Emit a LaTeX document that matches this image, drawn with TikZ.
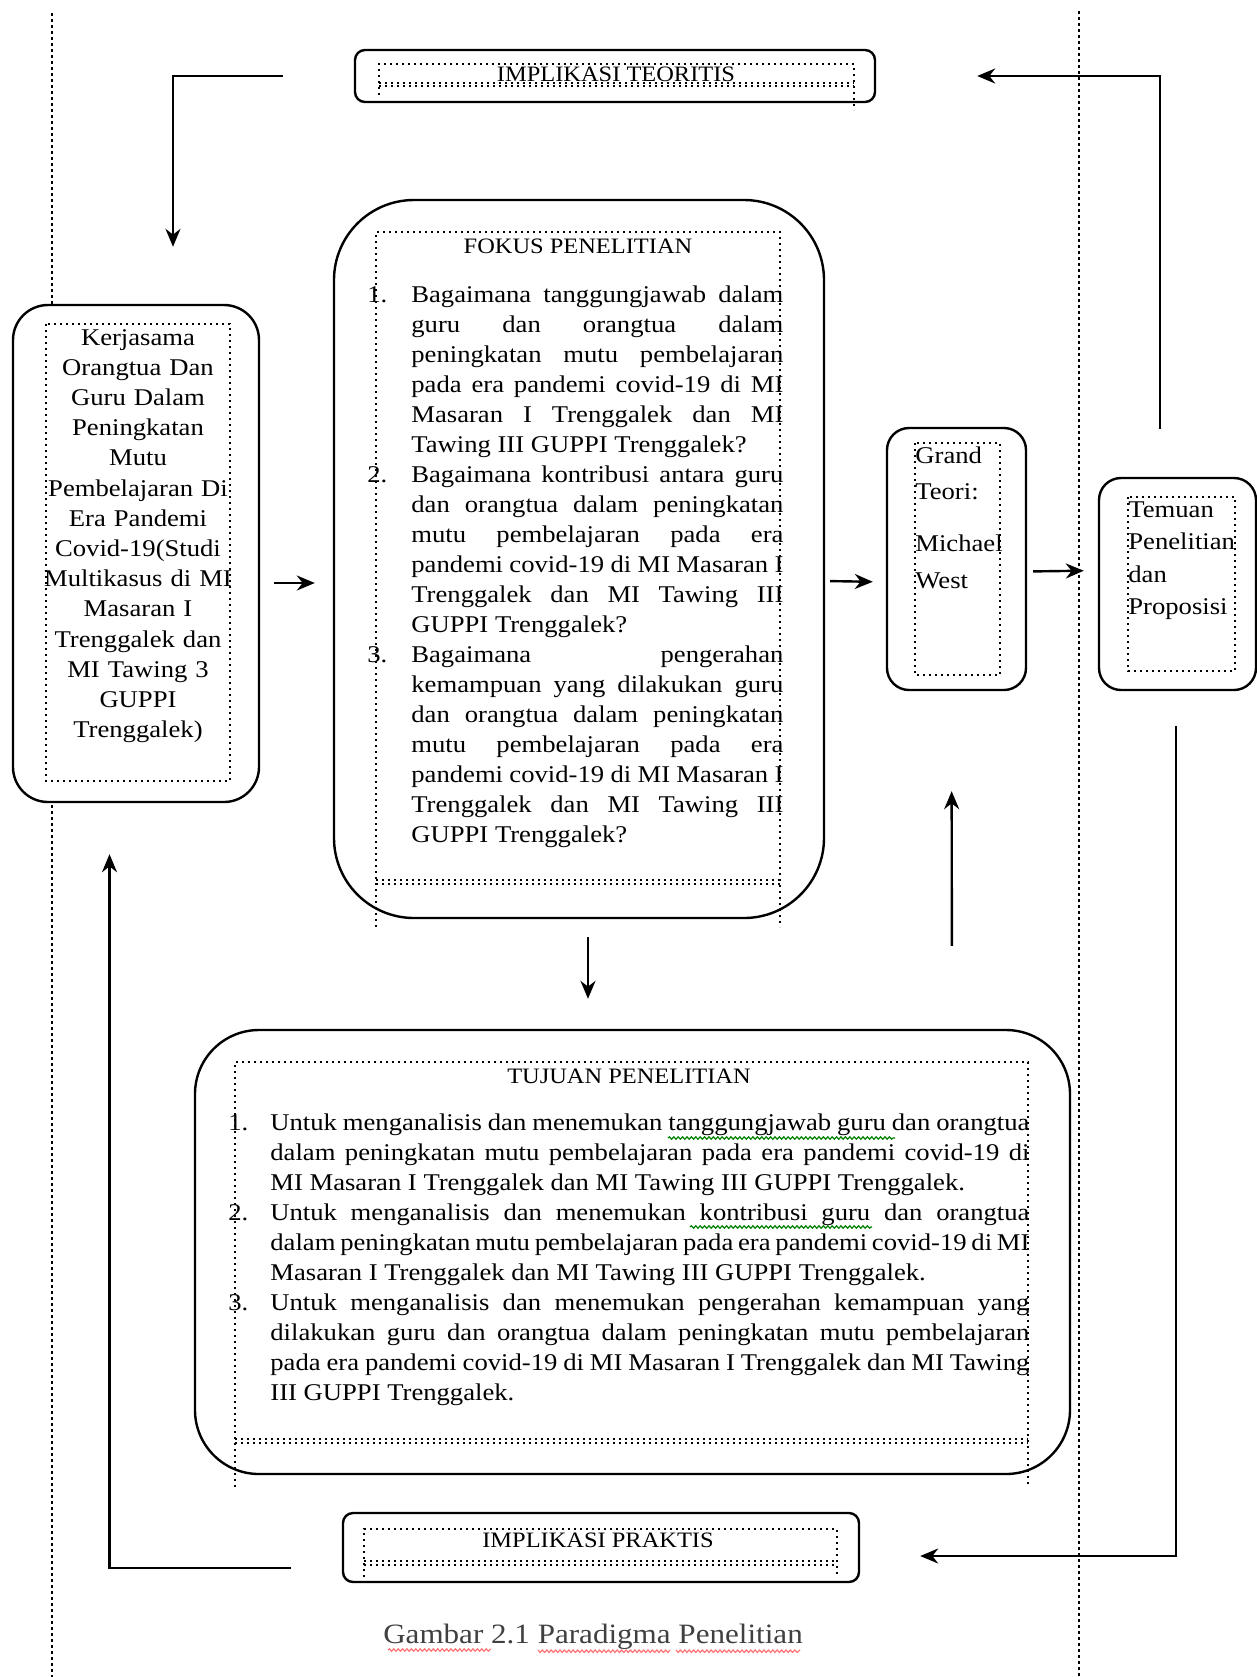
\documentclass[tikz,border=0pt]{standalone}
\usepackage{fontspec}
\setmainfont{Liberation Serif}[FakeStretch=1.11]
\usetikzlibrary{positioning,arrows.meta,decorations.pathmorphing}

\newcommand{\numitem}[3]{\noindent\hangindent=#1\hangafter=1\makebox[#1][l]{#2}#3\par}

\begin{document}
\begin{tikzpicture}[x=0.5pt, y=-0.5pt, >={Stealth[length=9pt,width=7.5pt]},
  box/.style={draw, fill=white, line width=1.2pt, rounded corners=#1, inner sep=0pt},
  frame/.style={line width=1pt, dotted},
  guide/.style={line width=0.9pt, dash pattern=on 1.5pt off 1.5pt},
  link/.style={->, line width=1.2pt},
  title/.style={inner sep=0pt, font=\fontsize{11}{13}\selectfont},
  body/.style={inner sep=0pt, font=\fontsize{12}{#1}\selectfont},
  spell/.style={#1, line width=0.6pt, decorate, decoration={snake, amplitude=0.6pt, segment length=2.2pt}}]

\useasboundingbox (0,0) rectangle (1257,1677);

% page guides
\draw [guide] (52,13) -- (52,1677);
\draw [guide] (1079,11) -- (1079,1677);

% boxes
\node [box=5pt, minimum width=260pt, minimum height=26pt] (teoritis) at (615,76) {};
\node [box=17.5pt, minimum width=123pt, minimum height=248.5pt] (kerj) at (136,553.5) {};
\node [box=40pt, minimum width=245pt, minimum height=359pt] (fokus) at (579,559) {};
\node [box=11pt, minimum width=69.5pt, minimum height=131pt] (grand) at (956.5,559) {};
\node [box=11pt, minimum width=78.5pt, minimum height=106pt] (temuan) at (1177.5,584) {};
\node [box=32pt, minimum width=437.5pt, minimum height=222pt] (tujuan) at (632.5,1252) {};
\node [box=5pt, minimum width=258pt, minimum height=34.5pt] (praktis) at (601,1547.5) {};

% dotted text frames
\draw [frame] (379,95) |- (854,64) -- (854,110);
\draw [frame] (379,83) -- (854,83) (379,86) -- (854,86);
\draw [frame] (46,324) rectangle (230,781);
\draw [frame] (376,927) |- (780,232) -- (780,927);
\draw [frame] (376,880) -- (780,880) (376,884) -- (780,884);
\draw [frame] (915,443) rectangle (1000,675);
\draw [frame] (1128,497) rectangle (1235,671);
\draw [frame] (235,1487) |- (1028,1062) -- (1028,1487);
\draw [frame] (235,1439) -- (1028,1439) (235,1443) -- (1028,1443);
\draw [frame] (364,1577) |- (837,1529) -- (837,1577);
\draw [frame] (364,1561) -- (837,1561) (364,1565) -- (837,1565);

% texts
\node [title] (teoritis-title) at (616,74) {IMPLIKASI TEORITIS};
\node [title] (fokus-title) at (578,246) {FOKUS PENELITIAN};
\node [title] (tujuan-title) at (629,1076) {TUJUAN PENELITIAN};
\node [title] (praktis-title) at (598,1540) {IMPLIKASI PRAKTIS};

\node [body=15.1pt, text width=100pt, align=center, anchor=base] (kerj-text) at (138,345)
  {Kerjasama\\ Orangtua Dan\\ Guru Dalam\\ Peningkatan\\ Mutu\\ Pembelajaran Di\\ Era Pandemi\\
   Covid-19(Studi\\ Multikasus di MI\\ Masaran I\\ Trenggalek dan\\ MI Tawing 3\\ GUPPI\\ Trenggalek)};

\node [body=15pt, text width=208pt, align=justify, anchor=base west] (fokus-list) at (367,302) {%
  \numitem{22pt}{1.}{Bagaimana tanggungjawab dalam\linebreak guru dan orangtua dalam\linebreak
    peningkatan mutu pembelajaran\linebreak pada era pandemi covid-19 di MI\linebreak
    Masaran I Trenggalek dan MI\linebreak Tawing III GUPPI Trenggalek?}
  \numitem{22pt}{2.}{Bagaimana kontribusi antara guru\linebreak dan orangtua dalam peningkatan\linebreak
    mutu pembelajaran pada era\linebreak pandemi covid-19 di MI Masaran I\linebreak
    Trenggalek dan MI Tawing III\linebreak GUPPI Trenggalek?}
  \numitem{22pt}{3.}{Bagaimana pengerahan\linebreak kemampuan yang dilakukan guru\linebreak
    dan orangtua dalam peningkatan\linebreak mutu pembelajaran pada era\linebreak
    pandemi covid-19 di MI Masaran I\linebreak Trenggalek dan MI Tawing III\linebreak
    GUPPI Trenggalek?}};

\node [body=18.3pt, text width=60pt, align=left, anchor=base west] (grand-text) at (915,463)
  {Grand\\ Teori:\\[7.7pt] Michael\\ West};
\node [body=16.3pt, text width=60pt, align=left, anchor=base west] (temuan-text) at (1128,517)
  {Temuan\\ Penelitian\\ dan\\ Proposisi};

\node [body=15pt, text width=400.5pt, align=justify, anchor=base west] (tujuan-list) at (228,1130) {%
  \numitem{21pt}{1.}{Untuk menganalisis dan menemukan tanggungjawab guru dan orangtua\linebreak
    dalam peningkatan mutu pembelajaran pada era pandemi covid-19 di\linebreak
    MI Masaran I Trenggalek dan MI Tawing III GUPPI Trenggalek.}
  \numitem{21pt}{2.}{Untuk menganalisis dan menemukan kontribusi guru dan orangtua\linebreak
    dalam peningkatan mutu pembelajaran pada era pandemi covid-19 di MI\linebreak
    Masaran I Trenggalek dan MI Tawing III GUPPI Trenggalek.}
  \numitem{21pt}{3.}{Untuk menganalisis dan menemukan pengerahan kemampuan yang\linebreak
    dilakukan guru dan orangtua dalam peningkatan mutu pembelajaran\linebreak
    pada era pandemi covid-19 di MI Masaran I Trenggalek dan MI Tawing\linebreak
    III GUPPI Trenggalek.}};

\node [inner sep=0pt, font=\fontsize{14}{16}\selectfont, text=black!75, anchor=base] (caption) at (593,1643)
  {Gambar 2.1 Paradigma Penelitian};

% spelling marks
\draw [spell=green!50!black] (668,1138) -- (895,1138);
\draw [spell=green!50!black] (690,1227) -- (872,1227);
\draw [spell=red!55] (388,1650) -- (490,1650) (538,1650) -- (669,1650) (676,1650) -- (800,1650);

% connectors
\draw [link, shorten <=35.5pt, shorten >=28.5pt] (teoritis.west) -| ([xshift=18.5pt]kerj.north);
\draw [link, shorten <=24pt, shorten >=50.5pt] ([xshift=-8.75pt]temuan.north) |- (teoritis.east);
\draw [link, shorten <=17.5pt, shorten >=30pt] ([xshift=-0.75pt]temuan.south) |- ([yshift=-4.25pt]praktis.east);
\draw [link, shorten <=25.5pt, shorten >=25.5pt] ([yshift=-10.25pt]praktis.west) -| ([xshift=-13.25pt]kerj.south);
\draw [link, shorten <=7pt, shorten >=9pt] ([yshift=-14.75pt]kerj.east) -- ([yshift=-12pt]fokus.west);
\draw [link, shorten <=2.5pt, shorten >=6.5pt] ([yshift=-11pt]fokus.east) -- ([yshift=-11.5pt]grand.west);
\draw [link, shorten <=3pt, shorten >=7pt] ([yshift=-6.25pt]grand.east) -- ([yshift=6.75pt]temuan.west);
\draw [link, shorten <=9pt, shorten >=15pt] ([xshift=4.5pt]fokus.south) -- ([xshift=-22.25pt]tujuan.north);
\draw [link, shorten <=41.5pt, shorten >=50pt] ([xshift=159.75pt]tujuan.north) -- ([xshift=-2.5pt]grand.south);

\end{tikzpicture}
\end{document}
